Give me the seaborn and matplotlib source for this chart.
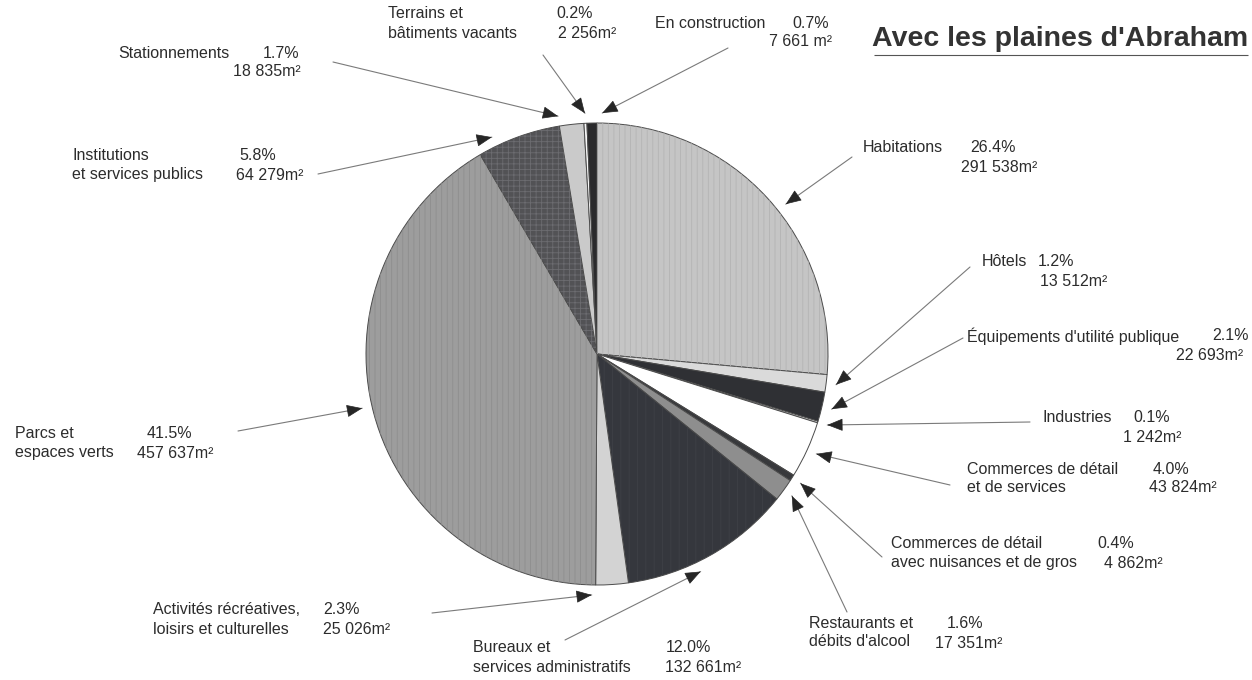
import numpy as np
import matplotlib
matplotlib.use("Agg")
import matplotlib.pyplot as plt
import seaborn as sns

# Land use, surface area per category (m²), clockwise from 12 o'clock
categories = [
    "Habitations", "Hôtels", "Équipements d'utilité publique", "Industries",
    "Commerces de détail et de services",
    "Commerces de détail avec nuisances et de gros",
    "Restaurants et débits d'alcool", "Bureaux et services administratifs",
    "Activités récréatives, loisirs et culturelles", "Parcs et espaces verts",
    "Institutions et services publics", "Stationnements",
    "Terrains et bâtiments vacants", "En construction",
]
areas_m2 = [291538, 13512, 22693, 1242, 43824, 4862, 17351, 132661,
            25026, 457637, 64279, 18835, 2256, 7661]

# Label text as printed (one entry per line)
label_lines = [
    ["Habitations"], ["Hôtels"], ["Équipements d'utilité publique"], ["Industries"],
    ["Commerces de détail", "et de services"],
    ["Commerces de détail", "avec nuisances et de gros"],
    ["Restaurants et", "débits d'alcool"],
    ["Bureaux et", "services administratifs"],
    ["Activités récréatives,", "loisirs et culturelles"],
    ["Parcs et", "espaces verts"],
    ["Institutions", "et services publics"],
    ["Stationnements"],
    ["Terrains et", "bâtiments vacants"],
    ["En construction"],
]
unit_suffix = ["m²"] * 13 + [" m²"]

title = "Avec les plaines d'Abraham"

# ---- styling -------------------------------------------------------------
colors = ["#c5c5c5", "#dadada", "#2f3034", "#ececec", "#ffffff", "#38393c",
          "#8e8e8e", "#35373d", "#d3d3d3", "#9d9d9d", "#525255", "#cacaca",
          "#f6f6f6", "#2a2a2c"]
hatches = ["|||", None, None, None, None, None, None, "||", None, "|||",
           "+++", None, None, None]
hatch_colors = ["#b4b4b4", None, None, None, None, None, None, "#3e4046",
                None, "#8e8e8e", "#6c6c70", None, None, None]

W, H = 1252, 680
CX, CY, R = 597, 354, 231          # pie centre / radius (pixels, y down)

# Per-label layout (pixels, y down):
# name x, first line y, pct (x, y), area (x, y), arrow tail (x, y), angle nudge (deg)
layout = [
    (863, 147, 970, 147, 961, 168, 852, 157, 4),
    (982, 262, 1038, 262, 1040, 282, 970, 267, 0),
    (967, 336, 1212, 336, 1176, 355, 963, 338, 0),
    (1042, 417, 1133, 417, 1123, 437, 1030, 422, 0),
    (967, 469, 1153, 469, 1149, 488, 950, 485, 0),
    (891, 543, 1097, 543, 1104, 563, 882, 557, 0),
    (809, 623, 947, 623, 935, 643, 847, 612, 0),
    (473, 648, 666, 648, 665, 668, 565, 640, 4),
    (153, 610, 323, 610, 323, 630, 432, 613, 5),
    (15, 433, 147, 433, 137, 453, 238, 431, 2),
    (72, 156, 239, 156, 236, 175, 318, 174, -6),
    (118, 53, 263, 53, 233, 72, 333, 62, -3),
    (388, 14, 556, 14, 558, 33, 543, 55, 0),
    (655, 24, 792, 24, 769, 42, 728, 48, 2.5),
]
LINE_GAP = 19

sns.set_theme(style="white")
plt.rcParams["font.family"] = ["Liberation Sans", "DejaVu Sans"]
plt.rcParams["hatch.linewidth"] = 0.6

TEXT_COLOR = "#2c2c2c"
FS = 11.5


def px(x, y):
    """Pixel position (y measured from the top) to data coordinates."""
    return x, H - y


fig = plt.figure(figsize=(W / 100, H / 100), dpi=100)
fig.patch.set_facecolor("white")
ax = fig.add_axes([0, 0, 1, 1])

centre = px(CX, CY)
wedges, _ = ax.pie(
    areas_m2, colors=colors, startangle=90, counterclock=False,
    center=centre, radius=R,
    wedgeprops=dict(edgecolor="#4b4b4b", linewidth=0.7),
)

# texture overlay on a few wedges
over, _ = ax.pie(
    areas_m2, startangle=90, counterclock=False, center=centre, radius=R,
    wedgeprops=dict(linewidth=0),
)
for w, h, hc in zip(over, hatches, hatch_colors):
    if h is None:
        w.set_visible(False)
        continue
    w.set_facecolor("none")
    w.set_edgecolor(hc)
    w.set_hatch(h)
    w.set_linewidth(0)

# one data unit = one pixel
ax.set_xlim(0, W)
ax.set_ylim(0, H)
ax.set_aspect("equal")
ax.axis("off")

total = float(sum(areas_m2))
cum = np.concatenate([[0.0], np.cumsum(areas_m2)[:-1]])


def fmt_area(v):
    return f"{v:,}".replace(",", " ")


for i, v in enumerate(areas_m2):
    nx, ny, pxp, pyp, ax_, ay_, tx, ty, nudge = layout[i]
    pct = 100.0 * v / total
    for k, line in enumerate(label_lines[i]):
        ax.text(*px(nx, ny + k * LINE_GAP), line, fontsize=FS, color=TEXT_COLOR,
                ha="left", va="center")
    ax.text(*px(pxp, pyp), f"{pct:.1f}%", fontsize=FS, color=TEXT_COLOR,
            ha="left", va="center")
    ax.text(*px(ax_, ay_), fmt_area(v) + unit_suffix[i], fontsize=FS,
            color=TEXT_COLOR, ha="left", va="center")

    # arrow pointing at the middle of the wedge
    theta = np.deg2rad(360.0 * (cum[i] + v / 2.0) / total + nudge)
    rr = R + 10
    tip = np.array([centre[0] + rr * np.sin(theta), centre[1] + rr * np.cos(theta)])
    tail = np.array(px(tx, ty), dtype=float)
    u = (tip - tail) / np.linalg.norm(tip - tail)
    ax.annotate("", xy=tuple(tip), xytext=tuple(tail),
                arrowprops=dict(arrowstyle="-", color="#7a7a7a", lw=0.8,
                                shrinkA=0, shrinkB=0))
    ax.annotate("", xy=tuple(tip), xytext=tuple(tip - u * 14),
                arrowprops=dict(arrowstyle="-|>,head_length=1.0,head_width=0.4",
                                mutation_scale=10, color="#262626", lw=0.5,
                                shrinkA=0, shrinkB=0))

# title, underlined
t = ax.text(*px(872, 39), title, fontsize=20.5, fontweight="bold", color="#333333",
            ha="left", va="center")
fig.canvas.draw()
bb = t.get_window_extent()
ax.plot([bb.x0 + 2, bb.x1], [H - 55, H - 55], color="#555555", lw=0.8,
        solid_capstyle="butt")
ax.set_xlim(0, W)
ax.set_ylim(0, H)

fig.savefig("out.png", dpi=100, facecolor="white")
